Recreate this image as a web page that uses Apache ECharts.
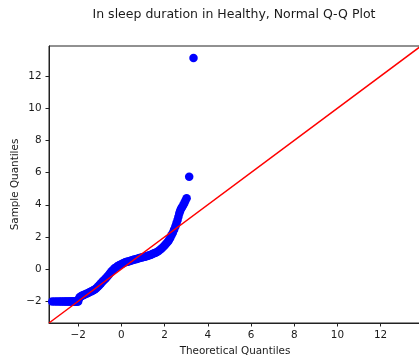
<!DOCTYPE html>
<html>
<head>
<meta charset="utf-8">
<script src="https://cdn.jsdelivr.net/npm/echarts@6/dist/echarts.min.js"></script>
<style>
  html, body { margin: 0; padding: 0; background: #fff; }
  #chart { width: 419px; height: 360px; }
</style>
</head>
<body>
<div id="chart"></div>
<script>
// theoretical quantiles (x) and sample quantiles (y)
const theoQ = [
  -3.2, -3.08, -2.98, -2.88, -2.8, -2.72, -2.65, -2.58, -2.52, -2.46,
  -2.4, -2.35, -2.3, -2.25, -2.2, -2.16, -2.12, -2.08, -2.04, -2.0,
  -1.97, -1.93, -1.88, -1.83, -1.77, -1.7, -1.62, -1.54, -1.46, -1.38,
  -1.3, -1.22, -1.15, -1.08, -1.01, -0.94, -0.87, -0.8, -0.73, -0.66,
  -0.59, -0.52, -0.45, -0.38, -0.31, -0.24, -0.17, -0.1, -0.03, 0.04,
  0.11, 0.18, 0.25, 0.32, 0.39, 0.46, 0.53, 0.6, 0.67, 0.74,
  0.81, 0.88, 0.95, 1.02, 1.09, 1.16, 1.23, 1.3, 1.37, 1.44,
  1.51, 1.58, 1.65, 1.72, 1.79, 1.86, 1.93, 2.0, 2.07, 2.14,
  2.2, 2.26, 2.32, 2.38, 2.44, 2.5, 2.55, 2.6, 2.64, 2.68,
  2.72, 2.76, 2.81, 2.86, 2.91, 2.96, 3.02, 3.14, 3.34
];
const sampleQ = [
  -2.02, -2.02, -2.02, -2.02, -2.02, -2.02, -2.02, -2.02, -2.02, -2.02,
  -2.02, -2.02, -2.02, -2.02, -2.02, -2.02, -2.02, -2.02, -2.02, -2.02,
  -1.85, -1.75, -1.7, -1.66, -1.63, -1.58, -1.53, -1.48, -1.43, -1.38,
  -1.32, -1.25, -1.17, -1.08, -0.98, -0.88, -0.77, -0.67, -0.58, -0.47,
  -0.36, -0.24, -0.13, -0.04, 0.05, 0.12, 0.19, 0.24, 0.29, 0.34,
  0.38, 0.42, 0.45, 0.48, 0.51, 0.54, 0.57, 0.6, 0.62, 0.65,
  0.67, 0.7, 0.72, 0.75, 0.77, 0.8, 0.83, 0.86, 0.9, 0.94,
  0.98, 1.02, 1.07, 1.13, 1.2, 1.28, 1.37, 1.47, 1.57, 1.68,
  1.8, 1.94, 2.1, 2.26, 2.45, 2.65, 2.85, 3.05, 3.25, 3.45,
  3.62, 3.75, 3.85, 3.97, 4.1, 4.25, 4.4, 5.74, 13.12
];
// 45 degree reference line, spanning the axis limits
const axisLimits = [-3.35, 13.87];
const tickValues = [-2, 0, 2, 4, 6, 8, 10, 12];

const points = theoQ.map((x, i) => [x, sampleQ[i]]);
const refLine = axisLimits.map(v => [v, v]);

const textColor = '#1a1a1a';
const minus = v => String(v).replace('-', '\u2212');

const chart = echarts.init(document.getElementById('chart'));

const axisCommon = {
  type: 'value',
  min: axisLimits[0],
  max: axisLimits[1],
  nameLocation: 'middle',
  nameMoveOverlap: false,
  nameTextStyle: { color: textColor, fontSize: 10.4, fontFamily: 'DejaVu Sans' },
  axisLine: { show: true, onZero: false, lineStyle: { color: '#222', width: 1 } },
  axisTick: {
    show: true, inside: false, length: 3.5,
    customValues: tickValues,
    lineStyle: { color: '#222', width: 1 }
  },
  axisLabel: {
    color: textColor, fontSize: 10.4, fontFamily: 'DejaVu Sans',
    margin: 7, customValues: tickValues, formatter: minus
  },
  splitLine: { show: false }
};

chart.setOption({
  animation: false,
  backgroundColor: '#fff',
  title: {
    text: 'In sleep duration in Healthy, Normal Q-Q Plot',
    left: 229, top: 3, textAlign: 'center',
    textStyle: { color: textColor, fontSize: 12.5, fontWeight: 'normal', fontFamily: 'DejaVu Sans' }
  },
  grid: {
    left: 49, top: 46, width: 372, height: 277,
    outerBoundsMode: 'none',
    containLabel: false,
    show: true, borderColor: '#222', borderWidth: 1, backgroundColor: 'transparent'
  },
  xAxis: Object.assign({}, axisCommon, { name: 'Theoretical Quantiles', nameGap: 23 }),
  yAxis: Object.assign({}, axisCommon, {
    name: 'Sample Quantiles', nameGap: 29,
    axisLabel: Object.assign({}, axisCommon.axisLabel, { margin: 7.5 })
  }),
  series: [
    {
      type: 'scatter',
      data: points,
      symbolSize: 8.5,
      itemStyle: { color: '#0000ff', opacity: 1 },
      z: 2
    },
    {
      type: 'line',
      data: refLine,
      symbol: 'none',
      lineStyle: { color: '#ff0000', width: 1.5 },
      z: 3
    }
  ]
});
</script>
</body>
</html>
